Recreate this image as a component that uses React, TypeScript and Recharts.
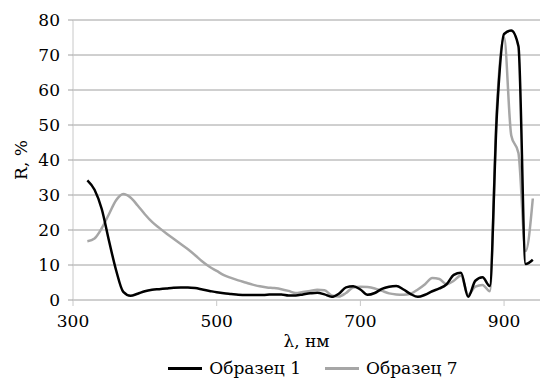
import { LineChart, Line, XAxis, YAxis, CartesianGrid, Legend, Label } from 'recharts'

// λ, nm — sampled every 10 nm
const wavelengths = [
  320, 330, 340, 350, 360, 370, 380, 390, 400, 410, 420, 430, 440, 450, 460, 470,
  480, 490, 500, 510, 520, 530, 540, 550, 560, 570, 580, 590, 600, 610, 620, 630,
  640, 650, 660, 670, 680, 690, 700, 710, 720, 730, 740, 750, 760, 770, 780, 790,
  800, 810, 820, 830, 840, 850, 860, 870, 880, 890, 900, 910, 920, 930, 940,
]

// R, % — Образец 1
const sample1 = [
  34.2, 31.5, 26, 17, 8.5, 2.3, 1.2, 1.8, 2.5, 2.9, 3.1, 3.3, 3.5, 3.6, 3.6, 3.4,
  3.0, 2.6, 2.2, 1.9, 1.7, 1.5, 1.4, 1.4, 1.4, 1.5, 1.6, 1.6, 1.3, 1.3, 1.6, 1.9,
  2.1, 1.6, 0.9, 1.8, 3.6, 3.9, 3.0, 1.5, 2.0, 3.2, 3.8, 4.0, 3.0, 1.7, 0.9, 1.5,
  2.5, 3.3, 4.5, 7.2, 7.8, 0.9, 5.5, 6.5, 4.0, 53, 76, 77, 72.5, 10.3, 11.5,
]

// R, % — Образец 7
const sample7 = [
  16.8, 17.6, 20.5, 24.5, 28.5, 30.3, 29.3, 27, 24.5, 22.3, 20.6, 19, 17.5, 16, 14.5, 12.8,
  11, 9.5, 8.3, 7.1, 6.3, 5.6, 5.0, 4.4, 3.9, 3.6, 3.4, 3.1, 2.6, 2.0, 2.3, 2.6,
  2.9, 2.8, 1.3, 1.0, 2.0, 3.6, 3.8, 3.7, 3.3, 2.6, 1.9, 1.6, 1.5, 1.8, 3.0, 4.5,
  6.3, 6.0, 4.5, 5.5, 7.0, 1.5, 3.8, 4.3, 2.5, 55, 75, 47, 42, 14, 29,
]

const xTicks = [300, 500, 700, 900]
const yTicks = [0, 10, 20, 30, 40, 50, 60, 70, 80]

const seriesNames = ['Образец 1', 'Образец 7']
const seriesColors = ['#000000', '#a6a6a6']

const FONT = '"DejaVu Serif", serif'
const FONT_SIZE = 17

const data = wavelengths.map((w, i) => ({ w, s1: sample1[i], s7: sample7[i] }))

const renderLegend = () => (
  <div
    style={{
      display: 'flex',
      justifyContent: 'center',
      alignItems: 'center',
      height: 30,
      fontFamily: FONT,
      fontSize: FONT_SIZE,
      color: '#000',
      paddingLeft: 86,
    }}
  >
    {seriesNames.map((name, i) => (
      <div key={name} style={{ display: 'flex', alignItems: 'center', marginRight: i === 0 ? 24 : 0 }}>
        <span style={{ display: 'inline-block', width: 34, height: 3, background: seriesColors[i], marginRight: 7 }} />
        <span>{name}</span>
      </div>
    ))}
  </div>
)

export default function App() {
  return (
    <div style={{ width: 540, height: 383, background: '#fff' }}>
      <style>{`body { margin: 0; }`}</style>
      <LineChart width={540} height={383} data={data} margin={{ top: 20, right: 0, bottom: 0, left: 0 }}>
        <CartesianGrid vertical={false} stroke="#a0a0a0" strokeWidth={1} />
        <XAxis
          dataKey="w"
          type="number"
          domain={[300, 950]}
          ticks={xTicks}
          height={53}
          axisLine={false}
          tickLine={{ stroke: '#c8c8c8' }}
          tickSize={6}
          tickMargin={9}
          tick={{ fill: '#000', fontFamily: FONT, fontSize: FONT_SIZE }}
          interval={0}
        >
          <Label
            value="λ, нм"
            position="insideBottom"
            offset={6}
            style={{ fill: '#000', fontFamily: FONT, fontSize: FONT_SIZE }}
          />
        </XAxis>
        <YAxis
          type="number"
          domain={[0, 80]}
          ticks={yTicks}
          width={73}
          axisLine={{ stroke: '#c8c8c8' }}
          tickLine={{ stroke: '#a0a0a0' }}
          tickSize={5}
          tickMargin={8}
          tick={{ fill: '#000', fontFamily: FONT, fontSize: FONT_SIZE }}
          interval={0}
        >
          <Label
            value="R, %"
            angle={-90}
            position="insideLeft"
            offset={21}
            style={{ fill: '#000', fontFamily: FONT, fontSize: FONT_SIZE, textAnchor: 'middle' }}
          />
        </YAxis>
        <Legend verticalAlign="bottom" height={30} content={renderLegend} wrapperStyle={{ left: 0, width: 540 }} />
        <Line
          type="monotone"
          dataKey="s7"
          name={seriesNames[1]}
          stroke={seriesColors[1]}
          strokeWidth={2.5}
          dot={false}
          isAnimationActive={false}
        />
        <Line
          type="monotone"
          dataKey="s1"
          name={seriesNames[0]}
          stroke={seriesColors[0]}
          strokeWidth={2.5}
          dot={false}
          isAnimationActive={false}
        />
      </LineChart>
    </div>
  )
}
